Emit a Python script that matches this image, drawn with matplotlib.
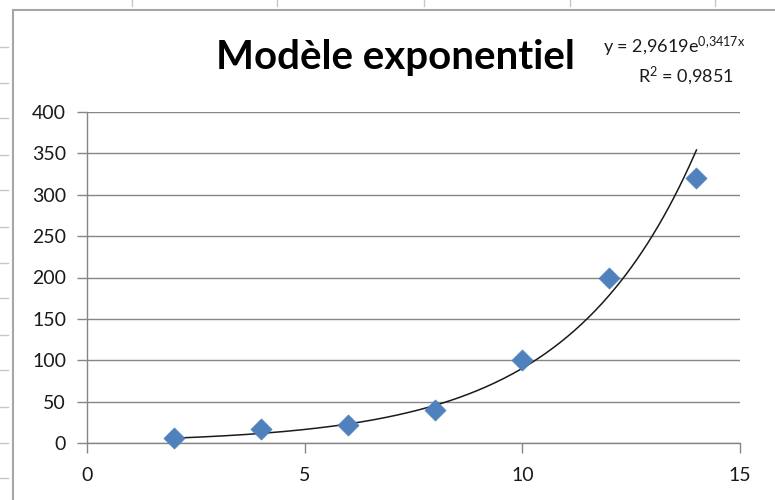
import numpy as np
import matplotlib
matplotlib.use("Agg")
import matplotlib.pyplot as plt
from matplotlib.lines import Line2D

# Data
x_vals = [2, 4, 6, 8, 10, 12, 14]
y_vals = [6, 17, 22, 40, 100, 200, 320]
fit_a = 2.9619
fit_b = 0.3417
r2_text = "0,9851"
title_text = "Modèle exponentiel"
x_ticks = [0, 5, 10, 15]
y_ticks = [0, 50, 100, 150, 200, 250, 300, 350, 400]

plt.rcParams['font.family'] = ['Lato', 'DejaVu Sans']
plt.rcParams['mathtext.fontset'] = 'custom'
plt.rcParams['mathtext.rm'] = 'Lato'
plt.rcParams['mathtext.default'] = 'regular'

W, H = 775, 500
fig = plt.figure(figsize=(W / 100, H / 100), dpi=100)
fig.patch.set_facecolor('white')

def fx(px):
    return px / W

def fy(py):
    return 1 - py / H

ax = fig.add_axes([fx(87), fy(443), fx(740) - fx(87), fy(112) - fy(443)])

grid_c = '#868686'
ax.set_xlim(0, 15)
ax.set_ylim(0, 400)
ax.set_xticks(x_ticks)
ax.set_yticks(y_ticks)
ax.yaxis.grid(True, color=grid_c, linewidth=1.0)
ax.set_axisbelow(True)
for s in ['top', 'right']:
    ax.spines[s].set_visible(False)
for s in ['left', 'bottom']:
    ax.spines[s].set_color(grid_c)
    ax.spines[s].set_linewidth(1.0)
ax.tick_params(axis='both', direction='out', length=7, width=1.0, color=grid_c,
               labelsize=14, labelcolor='#1a1a1a')
ax.tick_params(axis='y', pad=8)
ax.tick_params(axis='x', pad=10)

# trendline from fitted coefficients
xt = np.linspace(min(x_vals), max(x_vals), 300)
ax.plot(xt, fit_a * np.exp(fit_b * xt), color='#1a1a1a', linewidth=1.1, zorder=3)

ax.scatter(x_vals, y_vals, marker='D', s=115, color='#4F81BD', edgecolor='#4F81BD',
           linewidth=0.5, zorder=4, clip_on=False)

fig.text(fx(395), fy(58), title_text, ha='center', va='center',
         fontsize=29, fontweight='bold', color='black')

a_str = f"{fit_a}".replace('.', ',')
b_str = f"{fit_b}".replace('.', ',')
fig.text(fx(674), fy(47), "y = " + a_str + "e$^{" + b_str.replace(',', '{,}') + "x}$",
         ha='center', va='center', fontsize=13, color='#1a1a1a')
fig.text(fx(686), fy(76), "R$^{2}$ = " + r2_text, ha='center', va='center',
         fontsize=13, color='#1a1a1a')

# sheet frame
frame_c = '#A6A6A6'
fig.add_artist(Line2D([fx(13), fx(13)], [fy(10), fy(500)], color=frame_c, linewidth=1.5))
fig.add_artist(Line2D([fx(13), fx(775)], [fy(10), fy(10)], color=frame_c, linewidth=1.5))
for py in [47, 83, 118, 155, 190, 227, 263, 298, 335, 370, 407, 443, 478]:
    fig.add_artist(Line2D([fx(0), fx(8)], [fy(py), fy(py)], color='#C8C8C8', linewidth=1))
for px in [132, 277, 424, 570, 715]:
    fig.add_artist(Line2D([fx(px), fx(px)], [fy(0), fy(6)], color='#C8C8C8', linewidth=1))

fig.savefig('out.png', dpi=100)
